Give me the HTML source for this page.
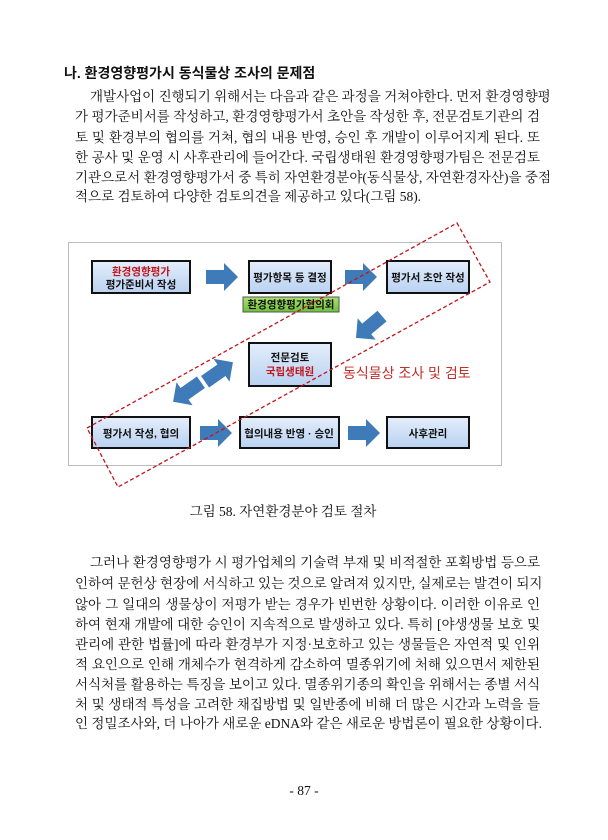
<!DOCTYPE html>
<html><head><meta charset="utf-8"><style>
body{margin:0;width:608px;height:840px;background:#fff;position:relative;overflow:hidden;font-family:"Liberation Serif","Noto Serif CJK SC","Noto Serif CJK KR",serif;color:#111}
.l{position:absolute;left:75px;width:465px;font-size:13.5px;line-height:20px;text-align:justify;text-align-last:justify;white-space:nowrap}
.h{position:absolute;left:64px;top:63px;font-size:14px;font-weight:bold;font-family:"Liberation Sans","Noto Sans CJK KR",sans-serif}
</style></head><body>
<div class="h">나. 환경영향평가시 동식물상 조사의 문제점</div>
<div class="l" style="top:87px;left:90px;width:450px">개발사업이 진행되기 위해서는 다음과 같은 과정을 거쳐야한다. 먼저 환경영향평</div>
<div class="l" style="top:107px">가 평가준비서를 작성하고, 환경영향평가서 초안을 작성한 후, 전문검토기관의 검</div>
<div class="l" style="top:128px">토 및 환경부의 협의를 거쳐, 협의 내용 반영, 승인 후 개발이 이루어지게 된다. 또</div>
<div class="l" style="top:148px">한 공사 및 운영 시 사후관리에 들어간다. 국립생태원 환경영향평가팀은 전문검토</div>
<div class="l" style="top:168px">기관으로서 환경영향평가서 중 특히 자연환경분야(동식물상, 자연환경자산)을 중점</div>
<div class="l" style="top:187px;text-align-last:left">적으로 검토하여 다양한 검토의견을 제공하고 있다(그림 58).</div>

<svg style="position:absolute;left:0;top:0" width="608" height="840" font-family="Liberation Sans, Noto Sans CJK KR, sans-serif">
<defs><linearGradient id="g" x1="0" y1="0" x2="0" y2="1"><stop offset="0" stop-color="#e4eefb"/><stop offset="1" stop-color="#b9d1f1"/></linearGradient>
<linearGradient id="gg" x1="0" y1="0" x2="0" y2="1"><stop offset="0" stop-color="#a9e070"/><stop offset="1" stop-color="#6fc13a"/></linearGradient></defs>
<rect x="68.5" y="242.5" width="433" height="223" fill="#fff" stroke="#bbb"/>
<g stroke="#111" stroke-width="2" fill="url(#g)">
<rect x="92" y="261" width="98" height="32"/><rect x="249" y="261" width="82" height="32"/><rect x="387" y="261" width="82" height="32"/>
<rect x="249" y="343" width="82" height="43"/>
<rect x="92" y="417" width="98" height="31"/><rect x="240" y="417" width="99" height="31"/><rect x="387" y="417" width="82" height="31"/>
</g>
<rect x="243" y="297" width="96" height="15" fill="url(#gg)" stroke="#555"/>
<g fill="#3e7bb8">
<polygon points="206,270 224,270 224,263 238,277 224,291 224,284 206,284"/>
<polygon points="345,270 363,270 363,263 377,277 363,291 363,284 345,284"/>
<polygon points="200,426 218,426 218,419 232,433 218,447 218,440 200,440"/>
<polygon points="348,426 366,426 366,419 380,433 366,447 366,440 348,440"/>
<g transform="translate(369,327) rotate(140) translate(-17,0)"><polygon points="0,-7 20,-7 20,-14 34,0 20,14 20,7 0,7"/></g>
<g transform="translate(219,372) rotate(-35) translate(-17,0)"><polygon points="0,-7 20,-7 20,-14 34,0 20,14 20,7 0,7"/></g>
<g transform="translate(187,392) rotate(145) translate(-17,0)"><polygon points="0,-7 20,-7 20,-14 34,0 20,14 20,7 0,7"/></g>
</g>
<g font-size="10.5" font-weight="bold" text-anchor="middle" fill="#111">
<text x="141" y="275" fill="#c0161b">환경영향평가</text><text x="141" y="288">평가준비서 작성</text>
<text x="290" y="281">평가항목 등 결정</text><text x="428" y="281">평가서 초안 작성</text>
<text x="291" y="308">환경영향평가협의회</text>
<text x="290" y="361">전문검토</text><text x="290" y="375" fill="#c0161b">국립생태원</text>
<text x="141" y="437">평가서 작성, 협의</text><text x="289" y="437">협의내용 반영 · 승인</text><text x="428" y="437">사후관리</text>
</g>
<text x="343" y="378" font-size="14" fill="#c0302a">동식물상 조사 및 검토</text>
<polygon points="457,223 490,282 118,487 87,428" fill="none" stroke="#c0161b" stroke-width="1.3" stroke-dasharray="4,2.5"/>
</svg>

<div style="position:absolute;top:500px;left:0;width:566px;text-align:center;font-size:13.5px">그림 58. 자연환경분야 검토 절차</div>
<div class="l" style="top:553px;left:90px;width:450px">그러나 환경영향평가 시 평가업체의 기술력 부재 및 비적절한 포획방법 등으로</div>
<div class="l" style="top:574px">인하여 문헌상 현장에 서식하고 있는 것으로 알려져 있지만, 실제로는 발견이 되지</div>
<div class="l" style="top:595px">않아 그 일대의 생물상이 저평가 받는 경우가 빈번한 상황이다. 이러한 이유로 인</div>
<div class="l" style="top:615px">하여 현재 개발에 대한 승인이 지속적으로 발생하고 있다. 특히 [야생생물 보호 및</div>
<div class="l" style="top:635px">관리에 관한 법률]에 따라 환경부가 지정·보호하고 있는 생물들은 자연적 및 인위</div>
<div class="l" style="top:655px">적 요인으로 인해 개체수가 현격하게 감소하여 멸종위기에 처해 있으면서 제한된</div>
<div class="l" style="top:675px">서식처를 활용하는 특징을 보이고 있다. 멸종위기종의 확인을 위해서는 종별 서식</div>
<div class="l" style="top:695px">처 및 생태적 특성을 고려한 채집방법 및 일반종에 비해 더 많은 시간과 노력을 들</div>
<div class="l" style="top:714px">인 정밀조사와, 더 나아가 새로운 eDNA와 같은 새로운 방법론이 필요한 상황이다.</div>
<div style="position:absolute;top:783px;left:0;width:608px;text-align:center;font-size:13.5px">- 87 -</div>
</body></html>
